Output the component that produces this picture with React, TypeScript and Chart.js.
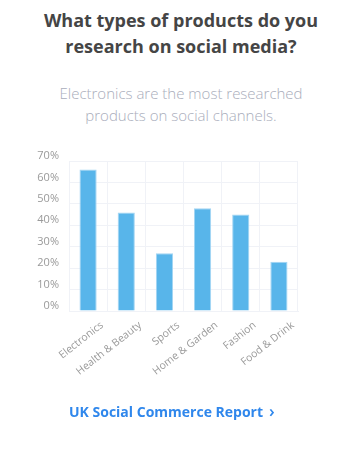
import React, { useEffect, useRef } from "react";
import { Chart, registerables } from "chart.js";

Chart.register(...registerables);

const categories = ["Electronics", "Health & Beauty", "Sports", "Home & Garden", "Fashion", "Food & Drink"];
const values = [66, 46, 27, 48, 45, 23];
const yMax = 70;
const yStep = 10;

const FONT = "'Open Sans', 'Noto Sans', sans-serif";

export default function App() {
  const ref = useRef<HTMLCanvasElement | null>(null);

  useEffect(() => {
    if (!ref.current) return;
    const chart = new Chart(ref.current, {
      type: "bar",
      data: {
        labels: categories,
        datasets: [
          {
            data: values,
            backgroundColor: "#58b5ea",
            borderColor: "#a3d5f3",
            borderWidth: 1,
            categoryPercentage: 1,
            barPercentage: 0.45,
          },
        ],
      },
      options: {
        animation: false,
        responsive: false,
        maintainAspectRatio: false,
        layout: { padding: { left: 20, right: 64, top: 21, bottom: 0 } },
        plugins: { legend: { display: false }, tooltip: { enabled: false } },
        scales: {
          x: {
            grid: { color: "#f0f2f7", drawTicks: false, offset: true },
            border: { color: "#f0f2f7" },
            ticks: {
              color: "#9a9a9a",
              font: { family: FONT, size: 10.5 },
              maxRotation: 38,
              minRotation: 38,
              padding: 8,
              labelOffset: 14,
              autoSkip: false,
            },
            afterFit: (scale: any) => {
              scale.height = 89;
            },
          },
          y: {
            min: 0,
            max: yMax,
            grid: { color: "#f0f2f7", drawTicks: false },
            border: { color: "#f0f2f7" },
            ticks: {
              stepSize: yStep,
              color: "#9a9a9a",
              font: { family: FONT, size: 11 },
              padding: 10,
              labelOffset: -5,
              callback: (v: any) => v + "%",
            },
            afterFit: (scale: any) => {
              scale.width = 49;
            },
          },
        },
      },
    });
    return () => chart.destroy();
  }, []);

  return (
    <div style={{ position: "relative", width: 362, height: 453, margin: -8, background: "#fff", fontFamily: FONT }}>
      <div
        style={{
          position: "absolute",
          top: 7,
          left: 0,
          width: 362,
          textAlign: "center",
          fontSize: 18,
          fontWeight: 700,
          lineHeight: "26px",
          color: "#454545",
        }}
      >
        What types of products do you
        <br />
        research on social media?
      </div>
      <div
        style={{
          position: "absolute",
          top: 82,
          left: 0,
          width: 362,
          textAlign: "center",
          fontSize: 15,
          fontWeight: 300,
          lineHeight: "22px",
          color: "#a9adbb",
        }}
      >
        Electronics are the most researched
        <br />
        products on social channels.
      </div>
      <canvas ref={ref} width={362} height={260} style={{ position: "absolute", left: 0, top: 140, width: 362, height: 260 }} />
      <div
        style={{
          position: "absolute",
          top: 401,
          left: 69,
          whiteSpace: "nowrap",
          fontSize: 14,
          fontWeight: 700,
          lineHeight: "20px",
          color: "#2f87ec",
        }}
      >
        UK Social Commerce Report
        <span style={{ fontWeight: 600, fontSize: 17, marginLeft: 6, lineHeight: "20px" }}>›</span>
      </div>
    </div>
  );
}
